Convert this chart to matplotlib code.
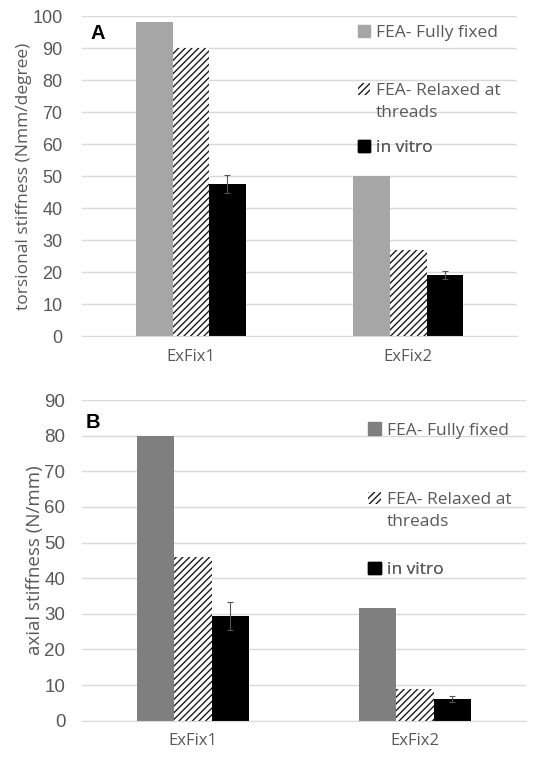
import numpy as np
import matplotlib
matplotlib.use("Agg")
import matplotlib.pyplot as plt
from matplotlib.patches import Patch

# data
categories = ['ExFix1', 'ExFix2']
series = ['FEA- Fully fixed', 'FEA- Relaxed at\nthreads', 'in vitro']

torsion_fixed = [98, 50]
torsion_relaxed = [90, 27]
torsion_vitro = [47.5, 19]
torsion_vitro_err = [2.7, 1.2]

axial_fixed = [80, 31.5]
axial_relaxed = [46, 9]
axial_vitro = [29.3, 6]
axial_vitro_err = [3.9, 0.8]

txt_col = '#595959'
grid_col = '#d9d9d9'
plt.rcParams['hatch.linewidth'] = 1.0

fig = plt.figure(figsize=(5.34, 7.62), dpi=100)
ax1 = fig.add_axes([0.1536, 0.559, 0.8146, 0.420])
ax2 = fig.add_axes([0.1536, 0.0542, 0.8314, 0.4208])


def panel(ax, fixed, relaxed, vitro, err, gray, ymax, ylabel, letter,
          tick_fs, tick_pad, ylab_fs, letter_xy, leg_y, leg_x):
    x = np.arange(len(categories))
    w = 0.168
    ax.bar(x - w, fixed, w, color=gray, zorder=2)
    ax.bar(x, relaxed, w, color='white', edgecolor='#1a1a1a', hatch='/////',
           linewidth=0, zorder=2)
    ax.bar(x + w, vitro, w, color='black', zorder=2)
    ax.errorbar(x + w, vitro, yerr=err, fmt='none', ecolor='#555555',
                elinewidth=0.8, capsize=2, capthick=0.8, zorder=3)

    ax.set_xlim(-0.5, 1.5)
    ax.set_ylim(0, ymax)
    ax.set_yticks(np.arange(0, ymax + 1, 10))
    ax.set_xticks(x)
    ax.set_xticklabels(categories, fontsize=12, color=txt_col,
                       family='Open Sans')
    ax.tick_params(axis='both', length=0)
    ax.tick_params(axis='y', labelsize=tick_fs, labelcolor=txt_col,
                   pad=tick_pad)
    ax.tick_params(axis='x', pad=9)
    for lab in ax.get_yticklabels():
        lab.set_family('Liberation Sans')
    ax.yaxis.grid(True, color=grid_col, linewidth=1)
    ax.set_axisbelow(True)
    for s in ['top', 'right', 'left']:
        ax.spines[s].set_visible(False)
    ax.spines['bottom'].set_color(grid_col)
    ax.set_ylabel(ylabel, fontsize=ylab_fs, color=txt_col, family='Open Sans',
                  labelpad=0)
    ax.text(letter_xy[0], letter_xy[1], letter, transform=ax.transAxes,
            fontsize=14.5, fontweight='bold', family='Liberation Sans',
            va='top', ha='left')

    handles = [Patch(facecolor=gray, edgecolor=gray),
               Patch(facecolor='white', edgecolor='#1a1a1a', hatch='/////',
                     linewidth=0),
               Patch(facecolor='black', edgecolor='black')]
    blank = Patch(facecolor='none', edgecolor='none')
    for h, lab, yy in zip(handles, series, leg_y):
        # wrapped labels: handle sits on the first line only
        lines = lab.split('\n')
        hs = [h] + [blank] * (len(lines) - 1)
        leg = ax.legend(hs, lines, loc='center left',
                        bbox_to_anchor=(leg_x, yy), frameon=False,
                        handlelength=0.7, handleheight=0.7,
                        handletextpad=0.35, borderpad=0, borderaxespad=0,
                        labelspacing=0.3,
                        prop={'family': 'Open Sans', 'size': 12.5})
        for t in leg.get_texts():
            t.set_color(txt_col)
        ax.add_artist(leg)


panel(ax1, torsion_fixed, torsion_relaxed, torsion_vitro, torsion_vitro_err,
      '#a6a6a6', 100, 'torsional stiffness (Nmm/degree)', 'A', 13, 14,
      12.5, (0.02, 0.975), [0.947, 0.731, 0.588], 0.634)
panel(ax2, axial_fixed, axial_relaxed, axial_vitro, axial_vitro_err,
      '#7f7f7f', 90, 'axial stiffness (N/mm)', 'B', 13.5, 12,
      13.5, (0.007, 0.96), [0.905, 0.654, 0.47], 0.645)

fig.savefig('out.png', dpi=100)
